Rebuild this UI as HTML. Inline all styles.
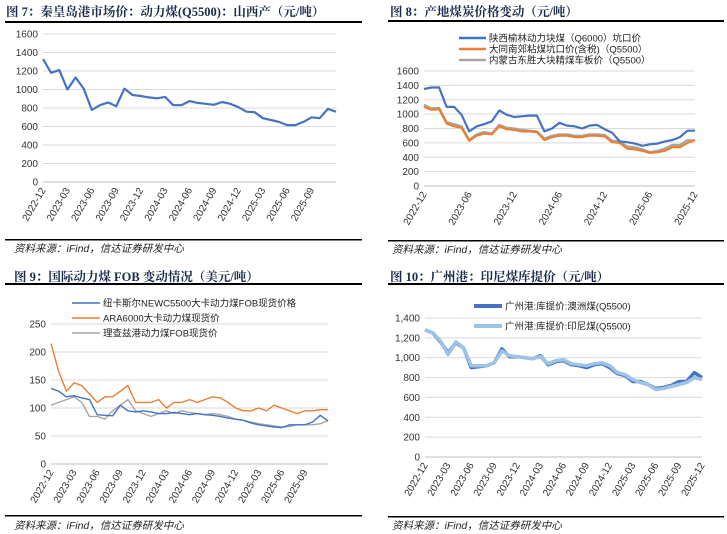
<!DOCTYPE html>
<html><head><meta charset="utf-8">
<style>
body{margin:0;background:#fff;}
svg{display:block;font-family:"Liberation Sans","Noto Sans CJK SC",sans-serif;}
.tt{font-family:"Liberation Serif","Noto Serif CJK SC",serif;font-weight:bold;font-size:12.5px;fill:#1a2a4a;}
.src{font-family:"Liberation Sans","Noto Sans CJK SC",sans-serif;font-style:italic;font-size:10.5px;fill:#222;}
.ax{font-size:10px;fill:#333;}
.lg{font-size:9.5px;fill:#222;}
</style></head>
<body>
<svg id="s" width="727" height="534" viewBox="0 0 727 534">
<text class="tt" x="6" y="16">图 7：秦皇岛港市场价：动力煤(Q5500)：山西产（元/吨）</text>
<rect x="5" y="21" width="357" height="2" fill="#000"/>
<rect x="5" y="239" width="357" height="1.5" fill="#000"/>
<text class="src" x="14" y="252">资料来源：iFind，信达证券研发中心</text>

<text class="tt" x="390" y="16">图 8：产地煤炭价格变动（元/吨）</text>
<rect x="388" y="20" width="336" height="2" fill="#000"/>
<rect x="388" y="240" width="336" height="1.5" fill="#000"/>
<text class="src" x="392" y="253">资料来源：iFind，信达证券研发中心</text>

<text class="tt" x="14" y="281">图 9：国际动力煤 FOB 变动情况（美元/吨）</text>
<rect x="5" y="283" width="357" height="2" fill="#000"/>
<rect x="5" y="515" width="357" height="1.5" fill="#000"/>
<text class="src" x="14" y="529">资料来源：iFind，信达证券研发中心</text>

<text class="tt" x="390" y="281">图 10：广州港：印尼煤库提价（元/吨）</text>
<rect x="388" y="283" width="336" height="2" fill="#000"/>
<rect x="388" y="516" width="336" height="1.5" fill="#000"/>
<text class="src" x="392" y="529">资料来源：iFind，信达证券研发中心</text>
</svg>
<script>
// ---- data (monthly, 2022-12 .. 2025-12) ----
const c7Ticks = [0,200,400,600,800,1000,1200,1400,1600];
const c7Labels = ["2022-12","2023-03","2023-06","2023-09","2023-12","2024-03","2024-06","2024-09","2024-12","2025-03","2025-06","2025-09"];
const c7Shanxi = [1330,1180,1210,1000,1130,1010,780,830,860,820,1010,940,930,915,905,920,830,830,875,855,845,835,865,845,810,760,755,690,670,650,615,615,650,700,690,790,760];

const c8Ticks = [0,200,400,600,800,1000,1200,1400,1600];
const c8Labels = ["2022-12","2023-06","2023-12","2024-06","2024-12","2025-06","2025-12"];
const c8Yulin = [1350,1370,1370,1100,1100,990,760,830,860,900,1050,990,960,970,980,980,760,800,880,840,830,800,840,850,790,740,620,610,590,560,580,590,620,640,680,770,770];
const c8Datong = [1100,1060,1070,870,830,810,630,700,730,720,830,790,780,760,760,750,640,680,700,700,680,680,700,700,690,610,600,520,510,490,460,470,490,540,540,600,640];
const c8Dongsheng = [1130,1080,1090,890,860,830,640,720,750,730,850,810,800,780,770,760,660,700,720,720,700,700,720,720,710,630,620,550,540,510,470,490,520,570,570,640,630];

const c9Ticks = [0,50,100,150,200,250];
const c9Labels = ["2022-12","2023-03","2023-06","2023-09","2023-12","2024-03","2024-06","2024-09","2024-12","2025-03","2025-06","2025-09"];
const c9Newc = [135,130,120,122,118,115,88,87,86,105,95,93,95,93,90,90,92,90,88,90,88,87,85,82,80,78,73,70,68,66,65,70,70,70,75,87,77];
const c9Ara = [215,165,130,145,140,125,110,120,120,130,140,110,110,110,115,100,110,110,115,110,115,120,118,110,100,95,95,100,95,105,100,95,90,95,95,97,97];
const c9Rb = [105,110,115,120,110,85,85,80,95,105,115,95,90,85,90,95,90,95,92,90,88,90,88,85,80,78,75,72,70,68,66,67,70,70,70,72,77];

const c10Ticks = ["0","200","400","600","800","1,000","1,200","1,400"];
const c10TickVals = [0,200,400,600,800,1000,1200,1400];
const c10Labels = ["2022-12","2023-03","2023-06","2023-09","2023-12","2024-03","2024-06","2024-09","2024-12","2025-03","2025-06","2025-09","2025-12"];
const c10Aus = [1280,1250,1160,1050,1150,1100,900,910,920,950,1090,1010,1010,1000,990,1020,930,960,970,930,920,900,930,940,900,840,820,760,760,730,690,700,720,760,760,850,800];
const c10Idn = [1280,1250,1170,1030,1160,1100,920,920,920,950,1070,1020,1010,1000,990,1010,940,970,980,940,930,920,940,950,920,850,830,780,750,730,680,690,710,730,750,800,780];

const NS = "http://www.w3.org/2000/svg";
const svg = document.getElementById('s');
function mk(tag, attrs, parent){
  const e = document.createElementNS(NS, tag);
  for (const k in attrs) e.setAttribute(k, attrs[k]);
  (parent||svg).appendChild(e);
  return e;
}
function chart(id, g){
  const grp = mk('g', {});
  
  
  const ys = v => g.y0 - (v - g.vmin) / (g.vmax - g.vmin) * (g.y0 - g.y1);
  const xs = i => g.x0 + i * (g.x1 - g.x0) / 36;
  g.tickVals.forEach((v, k) => {
    const y = ys(v);
    const gl = mk('line', {x1:g.x0, x2:g.x1, y1:y, y2:y, stroke: v===g.vmin ? '#bfbfbf' : '#d9d9d9', 'stroke-width':1}, grp);
    
    
    const t = mk('text', {x:g.x0 - 5, y:y + 3.5, 'text-anchor':'end', class:'ax'}, grp);
    t.textContent = g.tickText[k];
    
    
  });
  g.labels.forEach((l, k) => {
    const x = g.x0 + k * g.step;
    const t = mk('text', {x:x + 3, y:g.y0 + 8, 'text-anchor':'end', class:'ax', transform:'rotate(-60 ' + (x + 3) + ' ' + (g.y0 + 8) + ')'}, grp);
    t.textContent = l;
    
    
  });
  g.series.forEach(s => {
    const d = s.data.map((v, i) => (i ? 'L' : 'M') + xs(i).toFixed(1) + ',' + ys(v).toFixed(1)).join('');
    const p = mk('path', {d:d, fill:'none', stroke:s.color, 'stroke-width':s.w, 'stroke-linejoin':'round'}, grp);
    
    
  });
  (g.legend||[]).forEach((s, k) => {
    const y = g.ly + k * g.lgap;
    const l = mk('line', {x1:g.lx, x2:g.lx + g.llen, y1:y, y2:y, stroke:s.color, 'stroke-width':s.lw}, grp);
    
    
    const t = mk('text', {x:g.lx + g.llen + 3, y:y + 3.5, class:'lg'}, grp);
    t.textContent = s.label;
    
    
  });
}
chart('fig7', {x0:43, x1:336, y0:182, y1:34, vmin:0, vmax:1600, tickVals:c7Ticks, tickText:c7Ticks.map(String),
  labels:c7Labels, step:293/12,
  series:[{name:'shanxi', data:c7Shanxi, color:'#4472c4', w:2.2}]});
chart('fig8', {x0:424, x1:695, y0:186, y1:71, vmin:0, vmax:1600, tickVals:c8Ticks, tickText:c8Ticks.map(String),
  labels:c8Labels, step:271/6,
  series:[{name:'dongsheng', data:c8Dongsheng, color:'#a5a5a5', w:2.2},{name:'datong', data:c8Datong, color:'#ed7d31', w:2.2},{name:'yulin', data:c8Yulin, color:'#4472c4', w:2.2}],
  legend:[{label:'陕西榆林动力块煤（Q6000）坑口价', color:'#4472c4', lw:2.5},{label:'大同南郊粘煤坑口价(含税)（Q5500）', color:'#ed7d31', lw:2.5},{label:'内蒙古东胜大块精煤车板价（Q5500）', color:'#a5a5a5', lw:2.5}],
  lx:459, ly:38, lgap:11, llen:27});
chart('fig9', {x0:51, x1:328, y0:464, y1:324, vmin:0, vmax:250, tickVals:c9Ticks, tickText:c9Ticks.map(String),
  labels:c9Labels, step:277/12,
  series:[{name:'richards-bay', data:c9Rb, color:'#a5a5a5', w:1.4},{name:'newc', data:c9Newc, color:'#4472c4', w:1.4},{name:'ara', data:c9Ara, color:'#ed7d31', w:1.4}],
  legend:[{label:'纽卡斯尔NEWC5500大卡动力煤FOB现货价格', color:'#4472c4', lw:1.5},{label:'ARA6000大卡动力煤现货价', color:'#ed7d31', lw:1.5},{label:'理查兹港动力煤FOB现货价', color:'#a5a5a5', lw:1.5}],
  lx:72, ly:303, lgap:15, llen:28});
chart('fig10', {x0:425, x1:702, y0:457, y1:318, vmin:0, vmax:1400, tickVals:c10TickVals, tickText:c10Ticks,
  labels:c10Labels, step:277/12,
  series:[{name:'australia', data:c10Aus, color:'#4472c4', w:3.5},{name:'indonesia', data:c10Idn, color:'#9dc3e6', w:3.5}],
  legend:[{label:'广州港:库提价:澳洲煤(Q5500)', color:'#4472c4', lw:4},{label:'广州港:库提价:印尼煤(Q5500)', color:'#9dc3e6', lw:4}],
  lx:474, ly:306, lgap:20, llen:28});
</script>
</body></html>
